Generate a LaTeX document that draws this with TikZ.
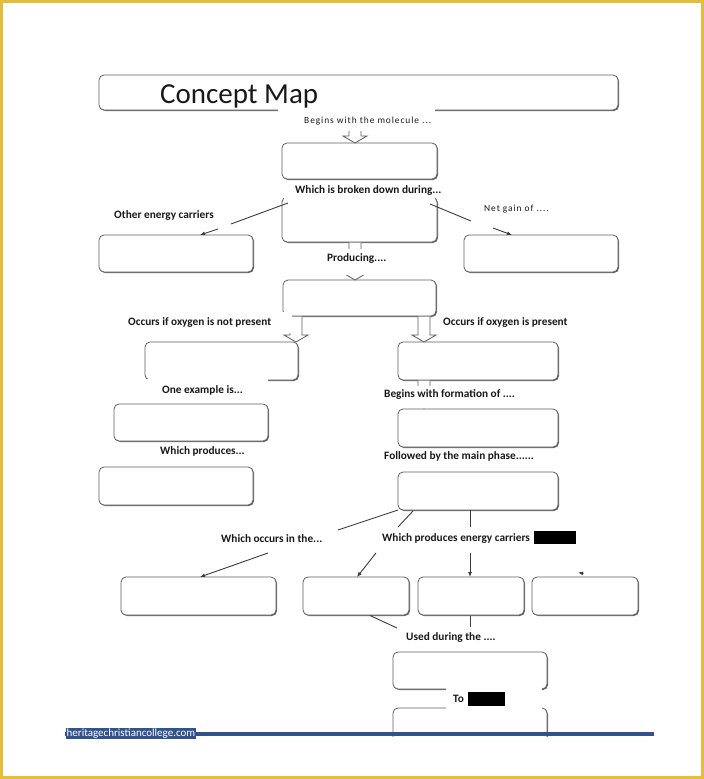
\documentclass[tikz,border=0pt]{standalone}
\usepackage{fontspec}
\setmainfont{Carlito}
\usetikzlibrary{arrows.meta,shadows}
\definecolor{gold}{RGB}{226,190,60}
\definecolor{barblue}{RGB}{50,82,140}
\definecolor{edge}{RGB}{95,95,95}
\definecolor{ink}{RGB}{25,25,25}
\newcommand\bx[5]{\node[box, minimum width={(#4-#2)*1pt}, minimum height={(#5-#3)*1pt}] (#1) at ({(#2+#4)/2},{(#3+#5)/2}) {};}
\newcommand\blockarr[3]{\draw[barrow] ({#1-6},#2) -- ({#1-6},{#3-7}) -- ({#1-12},{#3-7}) -- (#1,#3) -- ({#1+12},{#3-7}) -- ({#1+6},{#3-7}) -- ({#1+6},#2);}
\begin{document}
\begin{tikzpicture}[x=1pt,y=-1pt,
 box/.style={draw=edge, line width=0.8pt, rounded corners=5pt, fill=white, inner sep=0pt, outer sep=0pt,
   drop shadow={shadow xshift=1pt, shadow yshift=-1pt, fill=black, opacity=0.6}},
 lbl/.style={font=\fontsize{11.3}{11.3}\selectfont\bfseries, text=ink, inner sep=0pt, anchor=west},
 lbll/.style={font=\fontsize{9.4}{9.4}\selectfont\addfontfeatures{LetterSpace=10}, text=ink, inner sep=0pt, anchor=west},
 conn/.style={draw=ink!85, line width=0.9pt},
 arr/.style={conn, -{Latex[length=5pt,width=4pt]}},
 barrow/.style={draw=edge, line width=0.8pt, fill=white},
 cover/.style={fill=white},
 redact/.style={fill=black, inner sep=0pt, outer sep=0pt}
]
\useasboundingbox (0,0) rectangle (704,779);
\fill[white] (0,0) rectangle (704,779);
\draw[gold, line width=3pt] (1.5,1.5) rectangle (702.5,777.5);

% boxes
\bx{title}{99}{75}{618}{110}
\bx{mol}{282}{143}{437}{179}
\bx{brk}{282}{197}{437}{242}
\bx{oth}{99}{235}{253}{272}
\bx{net}{464}{235}{618}{272}
\bx{prod}{283}{280}{436}{316}
\bx{anaer}{145}{342}{298}{380}
\bx{aer}{398}{342}{558}{380}
\bx{exa}{114}{404}{268}{441}
\bx{form}{398}{409}{558}{447}
\bx{whp}{99}{467}{253}{505}
\bx{mainph}{398}{472}{558}{510}
\bx{cA}{121}{577}{276}{615}
\bx{cB}{303}{577}{409}{615}
\bx{cC}{418}{577}{524}{615}
\bx{cD}{532}{577}{638}{615}
\bx{dA}{393}{652}{547}{689}
\bx{dB}{393}{708}{547}{765}

% block arrows
\blockarr{355}{116}{143}
\blockarr{355}{242.5}{280}
\blockarr{296}{316.5}{342}
\blockarr{424}{316.5}{342}
\blockarr{424}{380.5}{408}

% covers of the label text boxes
\fill[cover] (278,107.5) rectangle (435,131);
\fill[cover] (284,181) rectangle (435,217);
\fill[cover] (315,249) rectangle (400,275);
\fill[cover] (118,312) rectangle (292,333);
\fill[cover] (140,379) rectangle (268,401);
\fill[cover] (380,386) rectangle (531,408);
\fill[cover] (446,688) rectangle (542,714);
\fill[cover] (385,737) rectangle (560,768);

% title
\node[font=\fontsize{29}{29}\selectfont, text=ink, anchor=base west, inner sep=0pt] (ttl) at (160,103) {Concept Map};

% labels
\node[lbll] (l1) at (304,121) {Begins with the molecule ...};
\node[lbl] (l2) at (295,190) {Which is broken down during...};
\node[lbl] (l3) at (114,215) {Other energy carriers};
\node[lbll] (l4) at (484,209) {Net gain of ....};
\node[lbl] (l5) at (327,258) {Producing....};
\node[lbl] (l6) at (128,322) {Occurs if oxygen is not present};
\node[lbl] (l7) at (443,322) {Occurs if oxygen is present};
\node[lbl] (l8) at (162,390) {One example is...};
\node[lbl] (l9) at (384,394) {Begins with formation of ....};
\node[lbl] (l10) at (160,451) {Which produces...};
\node[lbl] (l11) at (384,456) {Followed by the main phase......};
\node[lbl] (l12) at (221,539) {Which occurs in the...};
\node[lbl] (l13) at (382,538) {Which produces energy carriers};
\node[redact, minimum width=42pt, minimum height=13pt, anchor=north west] (rx1) at (534,531) {};
\node[lbl] (l14) at (406,637) {Used during the ....};
\node[lbl] (l15) at (453,699) {To};
\node[redact, minimum width=37pt, minimum height=14pt, anchor=north west] (rx2) at (468,692) {};

% connectors
\coordinate (a1) at (288,203); \coordinate (a2) at (231,224);
\coordinate (a3) at (218,229); \coordinate (a4) at (200,235);
\draw[conn] (a1) -- (a2); \draw[arr] (a3) -- (a4);
\coordinate (b1) at (430,204); \coordinate (b2) at (471,221);
\coordinate (b3) at (493,228); \coordinate (b4) at (512,235);
\draw[conn] (b1) -- (b2); \draw[arr] (b3) -- (b4);
\coordinate (d1) at (398,510); \coordinate (d2) at (338,530);
\coordinate (d3) at (268,553); \coordinate (d4) at (200,577);
\draw[conn] (d1) -- (d2); \draw[arr] (d3) -- (d4);
\coordinate (e1) at (413,511); \coordinate (e2) at (398,527);
\coordinate (e3) at (376,553); \coordinate (e4) at (357,577);
\draw[conn] (e1) -- (e2); \draw[arr] (e3) -- (e4);
\coordinate (f1) at (470,510); \coordinate (f2) at (470,527);
\coordinate (f3) at (470,553); \coordinate (f4) at (470,577);
\draw[conn] (f1) -- (f2); \draw[arr] (f3) -- (f4);
\coordinate (g1) at (583.5,573.5); \coordinate (g2) at (578,572.5);
\draw[arr] (g1) -- (g2);
\coordinate (h1) at (370,615.5); \coordinate (h2) at (397,628);
\draw[conn] (h1) -- (h2);
\coordinate (k1) at (470,615.5); \coordinate (k2) at (470,627);
\draw[conn] (k1) -- (k2);

% footer bar
\fill[barblue] (65,731.5) rectangle (654,736);
\node[anchor=west, fill=barblue, text=white, inner sep=0.5pt, font=\fontsize{11}{11}\selectfont] (wm) at (66,733.5) {heritagechristiancollege.com};
\end{tikzpicture}
\end{document}
